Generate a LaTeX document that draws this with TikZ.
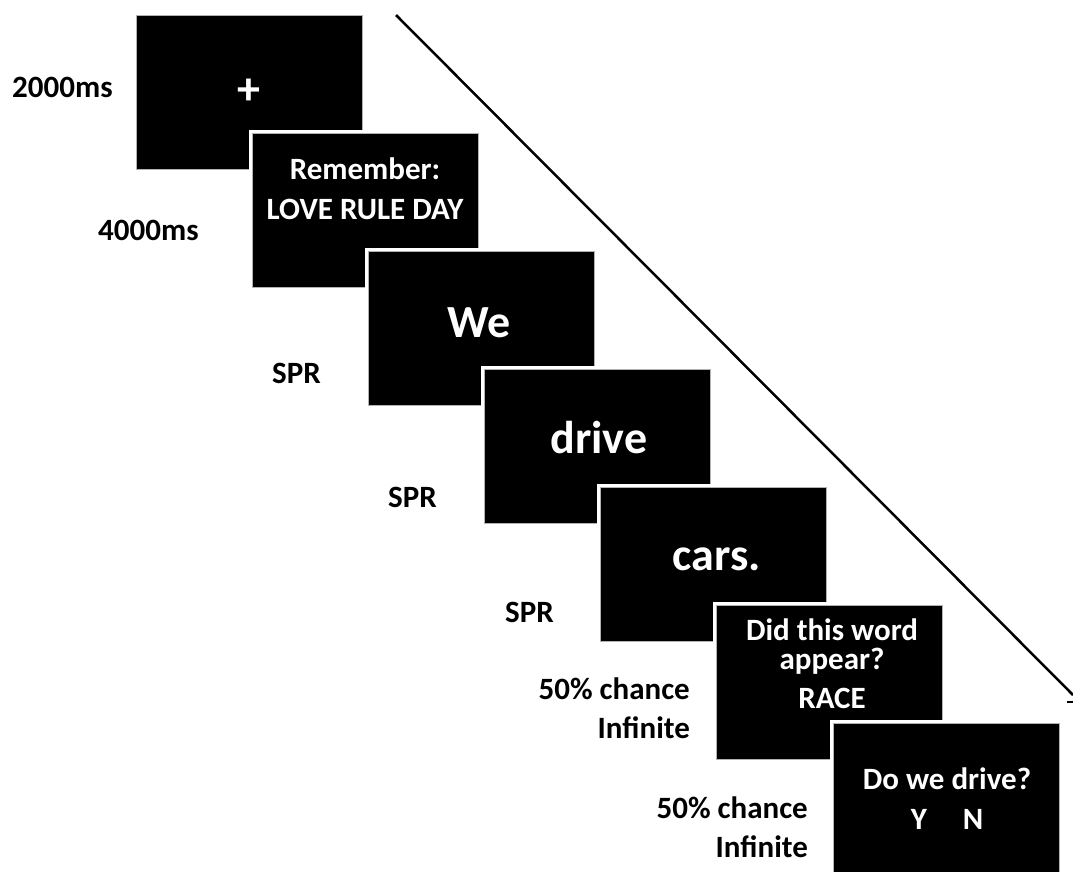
\documentclass[tikz,border=0pt]{standalone}
\usepackage{fontspec}
\setmainfont{Carlito}
\begin{document}
\begin{tikzpicture}[x=1pt,y=-1pt,
  screen/.style={fill=black, draw=gray!60, line width=1pt, minimum width=226pt, minimum height=154pt, inner sep=0pt, preaction={draw=white, line width=7pt}},
  lab/.style={font=\fontsize{31}{39}\selectfont\bfseries, inner sep=0pt, text=black},
  scr/.style={font=\fontsize{31}{39}\selectfont\bfseries, inner sep=0pt, text=white},
  big/.style={font=\fontsize{46}{50}\selectfont\bfseries, inner sep=0pt, text=white}]
\clip (0,0) rectangle (1073,871);
\fill[white] (0,0) rectangle (1073,871);
% diagonal line
\coordinate (ls) at (396,15);
\coordinate (le) at (1073,695);
\draw[line width=2.5pt] (ls) -- (le);
\coordinate (ts) at (1067,702);
\coordinate (te) at (1073,702);
\draw[line width=2.2pt] (ts) -- (te);
% screens
\node[screen] (b1) at (249,92) {};
\node[big] (t1) at (249,92) {+};
\node[screen] (b2) at (365,210) {};
\node[scr, anchor=base] (t2a) at (365,179) {Remember:};
\node[scr, anchor=base] (t2b) at (365,219) {LOVE RULE DAY};
\node[screen] (b3) at (481,328) {};
\node[big, anchor=base] (t3) at (479,337) {We};
\node[screen] (b4) at (597,446) {};
\node[big, anchor=base] (t4) at (599,453) {drive};
\node[screen] (b5) at (713,564) {};
\node[big, anchor=base] (t5) at (717,570) {cars.};
\node[screen] (b6) at (829,682) {};
\node[scr, anchor=base] (t6a) at (832,640) {Did this word};
\node[scr, anchor=base] (t6b) at (832,669) {appear?};
\node[scr, anchor=base] (t6c) at (832,708) {RACE};
\node[screen] (b7) at (946,800) {};
\node[scr, anchor=base] (t7a) at (947,789) {Do we drive?};
\node[scr, anchor=base] (t7b) at (947,829) {Y\hspace{36pt}N};
% labels
\node[lab, anchor=base west] (l1) at (12,97) {2000ms};
\node[lab, anchor=base west] (l2) at (98,240) {4000ms};
\node[lab, anchor=base west] (l3) at (272,383) {SPR};
\node[lab, anchor=base west] (l4) at (388,507) {SPR};
\node[lab, anchor=base west] (l5) at (505,622) {SPR};
\node[lab, anchor=base east] (l6a) at (690,699) {50\% chance};
\node[lab, anchor=base east] (l6b) at (690,738) {Infinite};
\node[lab, anchor=base east] (l7a) at (808,818) {50\% chance};
\node[lab, anchor=base east] (l7b) at (808,857) {Infinite};
\end{tikzpicture}
\end{document}
